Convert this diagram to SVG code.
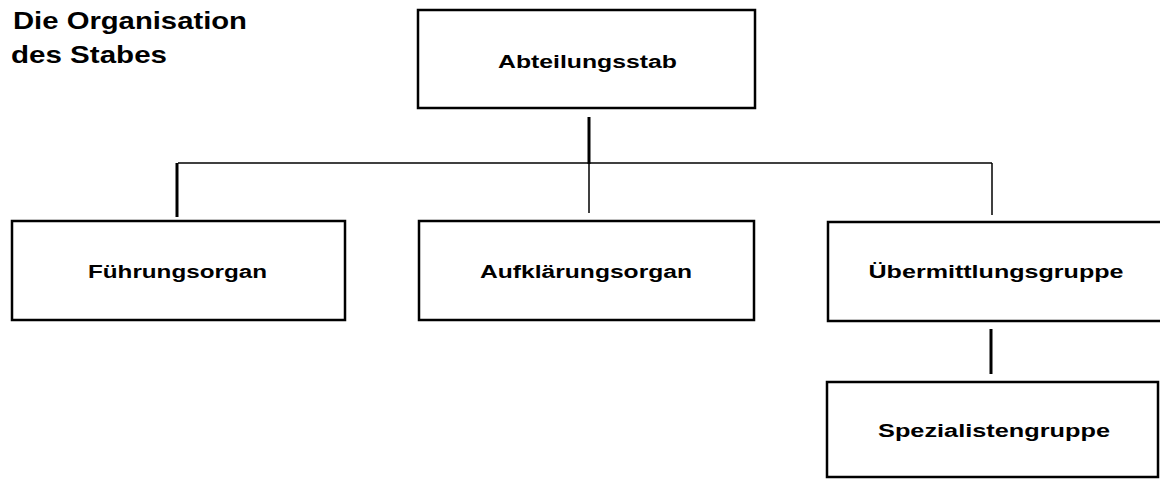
<svg xmlns="http://www.w3.org/2000/svg" width="1160" height="480" viewBox="0 0 1160 480">
<style>
  .box { fill: #ffffff; stroke: #000000; stroke-width: 2.5; }
  .lbl { font-family: "Liberation Sans", Arial, sans-serif; font-size: 18px; font-weight: bold; fill: #000000; text-anchor: middle; }
  .title { font-family: "Liberation Sans", Arial, sans-serif; font-size: 24px; font-weight: bold; fill: #000000; }
  .thick { stroke: #000000; stroke-width: 3; fill: none; }
  .thin { stroke: #000000; stroke-width: 1.5; fill: none; }
</style>
<rect width="1160" height="480" fill="#ffffff"/>
<g id="title">
  <text class="title" x="13" y="29" textLength="234" lengthAdjust="spacingAndGlyphs">Die Organisation</text>
  <text class="title" x="11" y="63" textLength="156" lengthAdjust="spacingAndGlyphs">des Stabes</text>
</g>
<g id="connectors">
  <line class="thick" x1="589" y1="117" x2="589" y2="164"/>
  <polyline class="thin" points="178,163 992,163"/>
  <line class="thick" x1="177" y1="163" x2="177" y2="217"/>
  <line class="thin" x1="589" y1="163" x2="589" y2="213"/>
  <line class="thin" x1="992" y1="163" x2="992" y2="215"/>
  <line class="thick" x1="991" y1="329" x2="991" y2="374"/>
</g>
<g id="abteilungsstab">
  <rect class="box" x="418" y="10" width="337" height="98"/>
  <text class="lbl" x="587.5" y="68" textLength="179" lengthAdjust="spacingAndGlyphs">Abteilungsstab</text>
</g>
<g id="fuehrungsorgan">
  <rect class="box" x="12" y="221" width="333" height="99"/>
  <text class="lbl" x="177.5" y="278" textLength="179" lengthAdjust="spacingAndGlyphs">Führungsorgan</text>
</g>
<g id="aufklaerungsorgan">
  <rect class="box" x="419" y="221" width="335" height="99"/>
  <text class="lbl" x="586" y="278" textLength="212" lengthAdjust="spacingAndGlyphs">Aufklärungsorgan</text>
</g>
<g id="uebermittlungsgruppe">
  <rect class="box" x="828" y="222" width="340" height="99"/>
  <text class="lbl" x="996" y="278" textLength="255" lengthAdjust="spacingAndGlyphs">Übermittlungsgruppe</text>
</g>
<g id="spezialistengruppe">
  <rect class="box" x="827" y="382" width="331" height="95"/>
  <text class="lbl" x="994" y="437" textLength="232" lengthAdjust="spacingAndGlyphs">Spezialistengruppe</text>
</g>
</svg>
